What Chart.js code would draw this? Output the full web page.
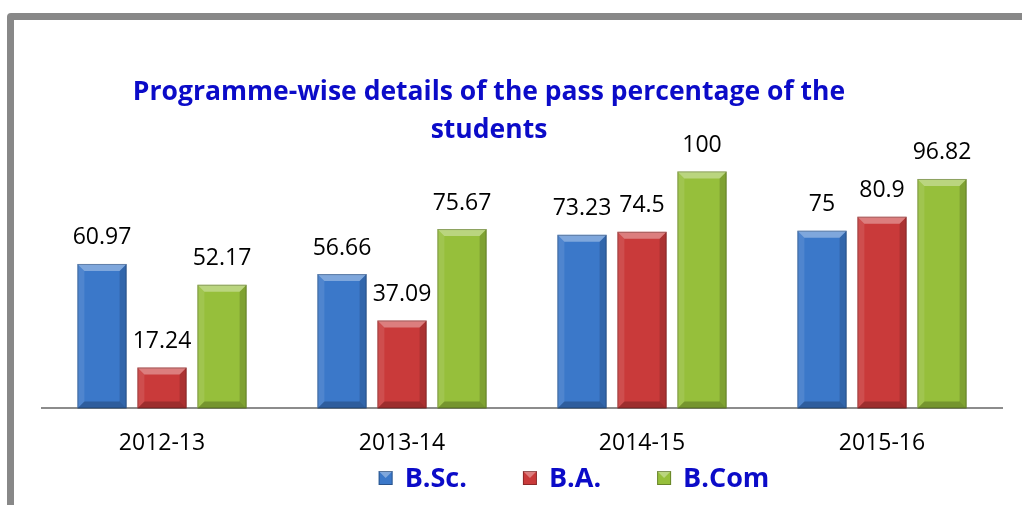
<!DOCTYPE html>
<html>
<head>
<meta charset="utf-8">
<script src="https://cdn.jsdelivr.net/npm/chart.js@4"></script>
<style>
  html, body { margin: 0; padding: 0; background: #fff; }
  #wrap { position: relative; width: 1022px; height: 505px; }
</style>
</head>
<body>
<div id="wrap"><canvas id="passChart" width="1022" height="505"></canvas></div>
<script>
const years = ['2012-13', '2013-14', '2014-15', '2015-16'];
const bsc = [60.97, 56.66, 73.23, 75];
const ba = [17.24, 37.09, 74.5, 80.9];
const bcom = [52.17, 75.67, 100, 96.82];
const titleLines = ['Programme-wise details of the pass percentage of the', 'students'];

const blue = '#3b78c9';
const red = '#c93a3a';
const green = '#96bf3b';
const titleBlue = '#0b0bc8';

// grey frame on top and left, like the pasted office chart
const framePlugin = {
    id: 'frame',
    beforeDraw(chart) {
        const ctx = chart.ctx;
        ctx.save();
        ctx.fillStyle = '#888';
        ctx.beginPath();
        ctx.moveTo(7, 505);
        ctx.lineTo(7, 17);
        ctx.quadraticCurveTo(7, 13, 11, 13);
        ctx.lineTo(1022, 13);
        ctx.lineTo(1022, 20);
        ctx.lineTo(14, 20);
        ctx.lineTo(14, 505);
        ctx.closePath();
        ctx.fill();
        ctx.restore();
    }
};

// bevel shading on every bar
const bevelPlugin = {
    id: 'bevel',
    afterDatasetsDraw(chart) {
        const ctx = chart.ctx;
        ctx.save();
        chart.data.datasets.forEach((ds, i) => {
            chart.getDatasetMeta(i).data.forEach(bar => {
                const p = bar.getProps(['x', 'y', 'base', 'width'], true);
                const l = p.x - p.width / 2, r = p.x + p.width / 2;
                const t = p.y, b = p.base, k = 7;
                const face = (pts, color) => {
                    ctx.beginPath();
                    ctx.moveTo(pts[0][0], pts[0][1]);
                    pts.slice(1).forEach(q => ctx.lineTo(q[0], q[1]));
                    ctx.closePath();
                    ctx.fillStyle = color;
                    ctx.fill();
                };
                face([[l, t], [r, t], [r - k, t + k], [l + k, t + k]], 'rgba(255,255,255,0.35)');
                face([[l, t], [l + k, t + k], [l + k, b - k], [l, b]], 'rgba(255,255,255,0.10)');
                face([[r, t], [r - k, t + k], [r - k, b - k], [r, b]], 'rgba(0,0,0,0.15)');
                face([[l, b], [l + k, b - k], [r - k, b - k], [r, b]], 'rgba(0,0,0,0.22)');
                ctx.strokeStyle = 'rgba(0,0,0,0.25)';
                ctx.lineWidth = 1;
                ctx.strokeRect(l + 0.5, t + 0.5, p.width - 1, b - t - 1);
            });
        });
        ctx.restore();
    }
};

// values above bars, title and legend
const textPlugin = {
    id: 'texts',
    afterDraw(chart) {
        const ctx = chart.ctx;
        ctx.save();
        ctx.fillStyle = '#000';
        ctx.font = '23px "Open Sans"';
        ctx.textAlign = 'center';
        ctx.textBaseline = 'middle';
        chart.data.datasets.forEach((ds, i) => {
            chart.getDatasetMeta(i).data.forEach((bar, j) => {
                ctx.fillText(String(ds.data[j]), bar.x, bar.y - 26);
            });
        });

        ctx.fillStyle = titleBlue;
        ctx.font = 'bold 26.5px "Open Sans"';
        ctx.fillText(titleLines[0], 489, 92);
        ctx.fillText(titleLines[1], 489, 130);

        // legend
        ctx.font = 'bold 27px "Open Sans"';
        ctx.textAlign = 'left';
        const gap = 56;
        const box = 14;
        const items = chart.data.datasets.map(ds => ({
            label: ds.label,
            color: ds.backgroundColor,
            w: box + 12 + ctx.measureText(ds.label).width
        }));
        const total = items.reduce((s, it) => s + it.w, 0) + gap * (items.length - 1);
        let x = 574 - total / 2;
        const y = 478;
        items.forEach(it => {
            ctx.fillStyle = it.color;
            ctx.fillRect(x, y - 7, box, box);
            ctx.fillStyle = 'rgba(255,255,255,0.35)';
            ctx.beginPath();
            ctx.moveTo(x, y - 7);
            ctx.lineTo(x + box, y - 7);
            ctx.lineTo(x + box / 2, y);
            ctx.closePath();
            ctx.fill();
            ctx.strokeStyle = 'rgba(0,0,0,0.3)';
            ctx.lineWidth = 1;
            ctx.strokeRect(x + 0.5, y - 6.5, box - 1, box - 1);
            ctx.fillStyle = titleBlue;
            ctx.fillText(it.label, x + box + 12, y + 1);
            x += it.w + gap;
        });
        ctx.restore();
    }
};

new Chart(document.getElementById('passChart').getContext('2d'), {
    type: 'bar',
    data: {
        labels: years,
        datasets: [{
            label: 'B.Sc.',
            data: bsc,
            backgroundColor: blue
        }, {
            label: 'B.A.',
            data: ba,
            backgroundColor: red
        }, {
            label: 'B.Com',
            data: bcom,
            backgroundColor: green
        }]
    },
    options: {
        responsive: false,
        animation: false,
        categoryPercentage: 0.75,
        barPercentage: 0.82,
        layout: {
            padding: { left: 42, right: 20, top: 124, bottom: 27 }
        },
        plugins: {
            legend: { display: false },
            title: { display: false },
            tooltip: { enabled: false }
        },
        scales: {
            x: {
                grid: { display: false, drawTicks: false },
                border: { display: true, color: '#8c8c8c', width: 2 },
                ticks: {
                    color: '#000',
                    padding: 21,
                    font: { family: 'Open Sans', size: 23 }
                }
            },
            y: {
                display: false,
                min: 0,
                max: 120
            }
        }
    },
    plugins: [framePlugin, bevelPlugin, textPlugin]
});
</script>
</body>
</html>
